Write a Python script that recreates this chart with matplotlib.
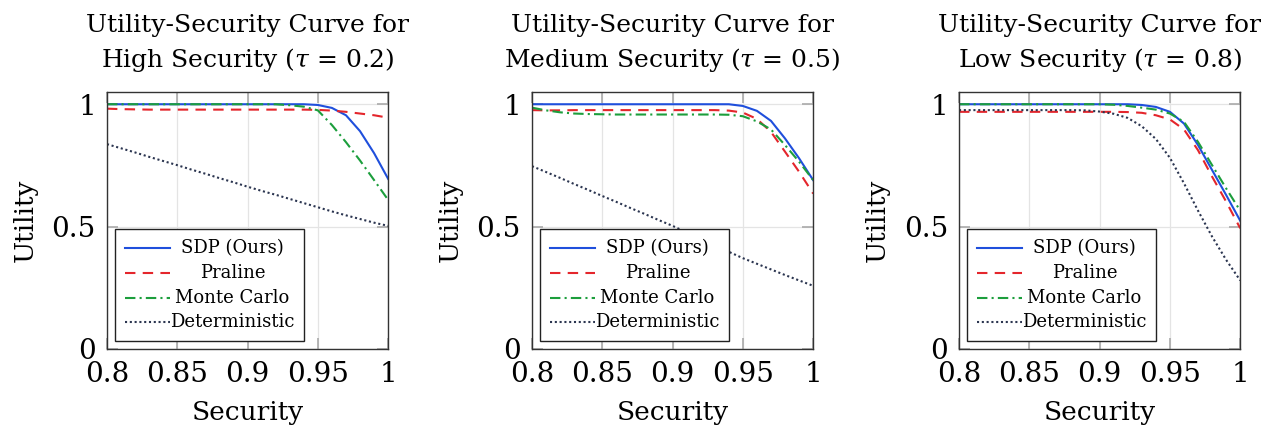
import matplotlib
matplotlib.use('Agg')
import matplotlib.pyplot as plt
from matplotlib.patches import Rectangle

plt.rcParams['font.family'] = ['DejaVu Serif']
plt.rcParams['mathtext.fontset'] = 'dejavuserif'

# 数据
security = [0.80, 0.81, 0.82, 0.83, 0.84, 0.85, 0.86, 0.87, 0.88, 0.89, 0.90,
            0.91, 0.92, 0.93, 0.94, 0.95, 0.96, 0.97, 0.98, 0.99, 1.00]

sdp_high = [1.0, 1.0, 1.0, 1.0, 1.0, 1.0, 1.0, 1.0, 1.0, 1.0, 1.0,
            1.0, 1.0, 1.0, 1.0, 0.997, 0.985, 0.955, 0.890, 0.800, 0.695]
praline_high = [0.982, 0.980, 0.979, 0.978, 0.978, 0.978, 0.978, 0.978, 0.978, 0.978, 0.978,
                0.978, 0.978, 0.978, 0.978, 0.977, 0.974, 0.969, 0.962, 0.955, 0.945]
mc_high = [1.0, 1.0, 1.0, 1.0, 1.0, 1.0, 1.0, 1.0, 1.0, 1.0, 1.0,
           1.0, 1.0, 0.996, 0.990, 0.975, 0.915, 0.845, 0.770, 0.690, 0.609]
det_high = [0.837, 0.820, 0.803, 0.785, 0.768, 0.751, 0.733, 0.716, 0.698, 0.681, 0.663,
            0.646, 0.630, 0.613, 0.596, 0.579, 0.562, 0.546, 0.531, 0.516, 0.503]

sdp_med = [1.0, 1.0, 1.0, 1.0, 1.0, 1.0, 1.0, 1.0, 1.0, 1.0, 1.0,
           1.0, 1.0, 1.0, 1.0, 0.993, 0.973, 0.932, 0.860, 0.779, 0.690]
praline_med = [0.976, 0.975, 0.975, 0.976, 0.976, 0.976, 0.976, 0.976, 0.976, 0.976, 0.976,
               0.976, 0.976, 0.976, 0.974, 0.966, 0.940, 0.887, 0.806, 0.724, 0.635]
mc_med = [0.986, 0.975, 0.967, 0.962, 0.960, 0.959, 0.958, 0.958, 0.958, 0.958, 0.958,
          0.958, 0.958, 0.958, 0.957, 0.951, 0.930, 0.897, 0.833, 0.765, 0.690]
det_med = [0.747, 0.723, 0.699, 0.674, 0.650, 0.625, 0.601, 0.576, 0.552, 0.527, 0.503,
           0.476, 0.450, 0.423, 0.397, 0.371, 0.348, 0.325, 0.302, 0.280, 0.258]

sdp_low = [1.0, 1.0, 1.0, 1.0, 1.0, 1.0, 1.0, 1.0, 1.0, 1.0, 1.0,
           1.0, 1.0, 0.997, 0.989, 0.969, 0.921, 0.833, 0.731, 0.629, 0.524]
praline_low = [0.969, 0.969, 0.969, 0.969, 0.969, 0.969, 0.969, 0.969, 0.969, 0.969, 0.969,
               0.969, 0.968, 0.965, 0.955, 0.938, 0.897, 0.812, 0.704, 0.602, 0.493]
mc_low = [1.0, 1.0, 1.0, 1.0, 1.0, 1.0, 1.0, 1.0, 1.0, 1.0, 1.0,
          0.998, 0.993, 0.986, 0.978, 0.962, 0.928, 0.846, 0.751, 0.656, 0.565]
det_low = [0.976, 0.976, 0.976, 0.976, 0.976, 0.976, 0.976, 0.976, 0.976, 0.975, 0.970,
           0.961, 0.944, 0.910, 0.858, 0.781, 0.677, 0.565, 0.459, 0.364, 0.280]

titles = ['Utility-Security Curve for\nHigh Security ($\\tau$ = 0.2)',
          'Utility-Security Curve for\nMedium Security ($\\tau$ = 0.5)',
          'Utility-Security Curve for\nLow Security ($\\tau$ = 0.8)']
panels = [(sdp_high, praline_high, mc_high, det_high),
          (sdp_med, praline_med, mc_med, det_med),
          (sdp_low, praline_low, mc_low, det_low)]

labels = ['SDP (Ours)', 'Praline', 'Monte Carlo', 'Deterministic']
colors = ['#1f4fdc', '#e4262c', '#1c9e3c', '#2b3550']
styles = ['-', (0, (5, 3.5)), (0, (5, 2, 1, 2)), (0, (1, 1.3))]

xticks = [0.8, 0.85, 0.9, 0.95, 1.0]
xticklabels = ['0.8', '0.85', '0.9', '0.95', '1']
yticks = [0, 0.5, 1]
yticklabels = ['0', '0.5', '1']

fig = plt.figure(figsize=(12.84, 4.34), dpi=100)
lefts = [0.0833, 0.4143, 0.7469]

for i in range(3):
    ax = fig.add_axes([lefts[i], 0.196, 0.219, 0.592])
    for ys, c, ls in zip(panels[i], colors, styles):
        ax.plot(security, ys, color=c, linestyle=ls, lw=1.5)

    ax.set_xlim(0.8, 1.0)
    ax.set_ylim(0, 1.05)
    ax.set_xticks(xticks)
    ax.set_xticklabels(xticklabels)
    ax.set_yticks(yticks)
    ax.set_yticklabels(yticklabels)
    ax.tick_params(direction='in', length=8, width=1.2, color='#aaaaaa',
                   top=True, right=True, labelsize=20)
    ax.tick_params(axis='x', pad=9)
    ax.tick_params(axis='y', pad=8)
    ax.grid(color='#e4e4e4', lw=0.9)
    ax.set_axisbelow(True)
    for sp in ax.spines.values():
        sp.set_color('#333333')
        sp.set_linewidth(1.0)

    ax.set_title(titles[i], fontsize=18, linespacing=1.45, pad=18)
    ax.set_xlabel('Security', fontsize=19, labelpad=8)
    ax.set_ylabel('Utility', fontsize=19, labelpad=10)

    # 图例（文字居中）
    ax.add_patch(Rectangle((0.03, 0.03), 0.67, 0.435, transform=ax.transAxes,
                           fc='white', ec='#222222', lw=1.0, zorder=5))
    rows = [0.392, 0.297, 0.199, 0.103]
    for y, lab, c, ls in zip(rows, labels, colors, styles):
        ax.plot([0.063, 0.223], [y, y], transform=ax.transAxes, color=c,
                linestyle=ls, lw=1.5, zorder=6)
        ax.text(0.446, y, lab, transform=ax.transAxes, ha='center', va='center',
                fontsize=13, zorder=6)

fig.savefig('out.png', dpi=100)
